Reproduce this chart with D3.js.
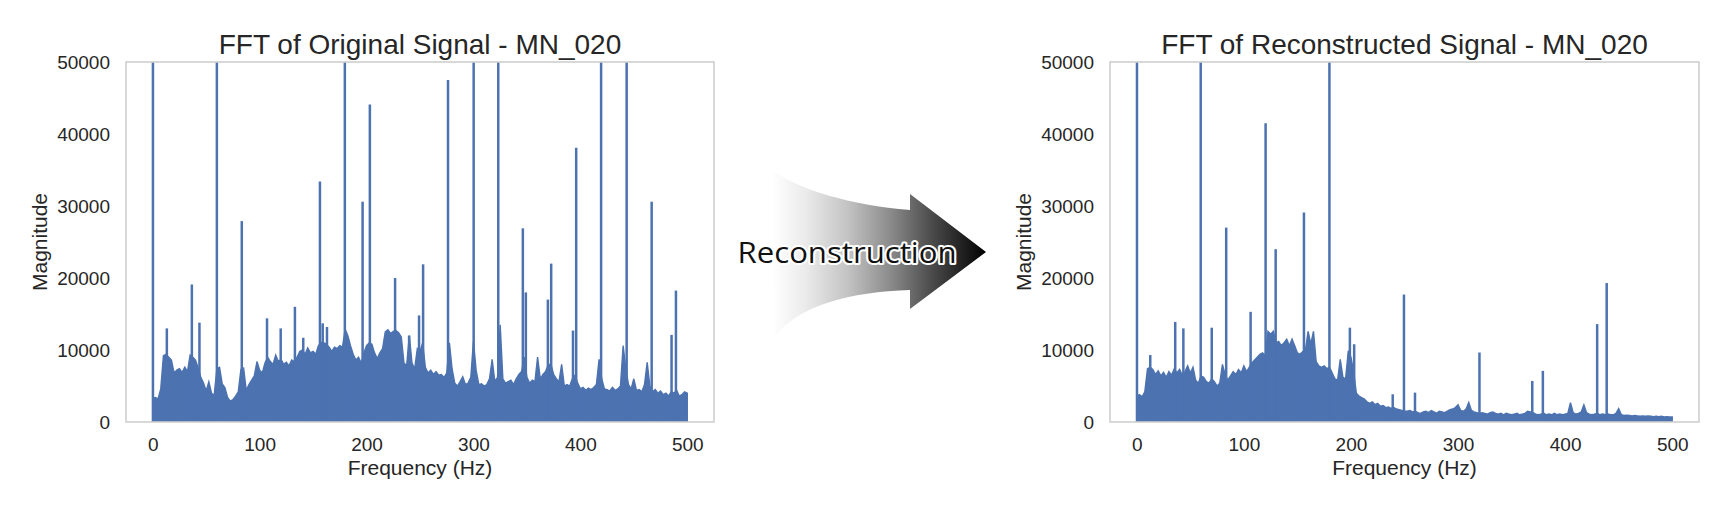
<!DOCTYPE html>
<html><head><meta charset="utf-8">
<script src="https://cdn.jsdelivr.net/npm/d3@7"></script>
<style>body{margin:0;background:#fff}svg{display:block}</style>
</head><body>
<svg id="chart" width="1733" height="514"></svg>
<script>
// ---------------- data ----------------
const freqTicks = [0, 100, 200, 300, 400, 500];
const magTicks = [0, 10000, 20000, 30000, 40000, 50000];
const titles = ["FFT of Original Signal - MN_020", "FFT of Reconstructed Signal - MN_020"];
const xLabel = "Frequency (Hz)";
const yLabel = "Magnitude";
const arrowLabel = "Reconstruction";
const floorStep = 2.5; // Hz between noise-floor samples (0 .. 500 Hz)

// Original signal: noise-floor envelope read every 2.5 Hz
const origFloor = [
  3300, 3400, 3200, 4600, 9200, 9400, 9000, 8600, 6800, 7200,
  7400, 6900, 7600, 7000, 9300, 9000, 8600, 7500, 6200, 5400,
  4300, 5600, 4000, 3700, 7400, 7600, 5300, 4800, 3400, 2900,
  3100, 3600, 4200, 7300, 7500, 4400, 5200, 5800, 6400, 8400,
  7200, 6800, 8200, 9000, 8400, 8000, 9300, 8400, 8700, 8000,
  8300, 7800, 8600, 8400, 9000, 9800, 10000, 9400, 10300, 9600,
  9800, 9400, 10600, 11000, 11000, 10800, 10400, 9800, 10400, 10200,
  10600, 10400, 12900, 12000, 10600, 9400, 8600, 9000, 8200, 9600,
  10600, 11000, 10800, 9600, 8800, 9600, 10200, 12500, 12800, 12300,
  12600, 12700, 12400, 11800, 8200, 7800, 12000, 8200, 7400, 10200,
  9800, 11000, 7600, 6800, 7200, 6600, 7000, 6500, 6600, 6200,
  6800, 11000, 7400, 5400, 5000, 5600, 6300, 5200, 5400, 6200,
  11200, 7200, 5200, 5300, 5000, 5200, 6000, 8700, 5600, 6200,
  13500, 6000, 5400, 5600, 5800, 5200, 6000, 6600, 7000, 9000,
  6200, 5400, 5800, 5600, 9000, 6000, 6600, 7000, 8000, 8000,
  6600, 6000, 5600, 8000, 5000, 5200, 5000, 6000, 6500, 5400,
  4600, 4800, 4400, 4700, 4500, 4800, 5200, 8700, 6000, 4600,
  4500, 4300, 4800, 4400, 4600, 5000, 10600, 7500, 5200, 4600,
  6000, 4400, 4500, 4200, 5200, 8300, 5000, 4200, 4500, 4000,
  4300, 3800, 4000, 3600, 4200, 4000, 4400, 3600, 3800, 4200,
  4000
];
// Original signal: isolated peaks [frequency Hz, magnitude]
const origSpikes = [
  [0.2, 90000], [13.2, 13000], [36.6, 19100], [43.7, 13800], [60, 85000],
  [83.3, 27900], [106.9, 14400], [119.7, 13000], [133, 16000], [140.8, 11700],
  [156.4, 33400], [159, 13700], [163, 13200], [179.7, 70000], [196.3, 30600],
  [203.1, 44100], [226.7, 20000], [239.8, 12000], [249.1, 14800], [252.9, 21900],
  [276.2, 47500], [300.2, 60000], [323.2, 60000], [346.2, 26900], [349, 18000],
  [369.6, 17000], [372.7, 22000], [393.1, 12700], [396.1, 38100], [419.4, 65000],
  [443.3, 65000], [466.7, 30600], [485.3, 12100], [489.4, 18250]
];

// Reconstructed signal: noise-floor envelope read every 2.5 Hz
const reconFloor = [
  3600, 3800, 3500, 4200, 7400, 7600, 7300, 6600, 7100, 6400,
  6900, 6200, 7000, 6500, 7400, 6800, 7300, 6500, 7000, 7800,
  6800, 7600, 5800, 5400, 6400, 6200, 5600, 5400, 6000, 5600,
  5000, 5400, 8000, 6600, 5800, 6400, 7000, 6600, 7300, 6800,
  7800, 7000, 7600, 8200, 8600, 9000, 9400, 9600, 9200, 12600,
  12200, 12600, 11000, 11200, 10600, 11000, 11500, 10600, 11500, 10600,
  9600, 9400, 9800, 10000, 12600, 10800, 12600, 8400, 7800, 7600,
  7800, 7400, 7600, 6800, 6000, 5800, 8700, 6200, 6000, 9900,
  9000, 7000, 4000, 3600, 3400, 3200, 2800, 2600, 2800, 2400,
  2600, 2200, 2300, 2000, 2100, 1900, 2000, 1800, 1700, 1600,
  1500, 1500, 1600, 1400, 1500, 1300, 1200, 1400, 1500, 1300,
  1600, 1400, 1200, 1500, 1400, 1300, 1500, 1700, 1800, 2000,
  2400, 1600, 1500, 1800, 2700, 1600, 1400, 1300, 1200, 1300,
  1200, 1100, 1300, 1400, 1200, 1100, 1200, 1000, 1200, 1100,
  1000, 1100, 1200, 1000, 1100, 1200, 1500, 1400, 1300, 1100,
  1000, 1100, 1200, 1000, 1100, 1000, 1200, 1000, 1100, 1000,
  1100, 1200, 2700, 1300, 1100, 1200, 1400, 2400, 1300, 1100,
  1000, 1100, 1200, 1000, 1100, 1000, 1100, 1000, 1000, 1200,
  1850, 1000, 900, 950, 900, 850, 900, 850, 800, 850,
  800, 850, 800, 750, 800, 750, 800, 700, 750, 700,
  700
];
// Reconstructed signal: isolated peaks [frequency Hz, magnitude]
const reconSpikes = [
  [0.2, 90000], [12.6, 9300], [35.9, 13900], [43.5, 13000], [59.7, 85000],
  [70, 13100], [83.5, 27000], [106.3, 15300], [120.3, 41500], [129.7, 24000],
  [156.1, 29100], [179.9, 70000], [199, 13100], [203, 10800], [239, 3850],
  [249.5, 17700], [259.8, 4080], [320, 9650], [369.3, 5700], [379.2, 7100],
  [429.9, 13600], [438.8, 19300]
];

// ---------------- drawing ----------------
const blue = "#4C72B0";
const textCol = "#262626";
const font = "'Liberation Sans', Arial, sans-serif";
const svg = d3.select("#chart");
const defs = svg.append("defs");

const axTop = 62, axBottom = 422;
const panels = [
  { left: 126, right: 714, title: titles[0], floor: origFloor, spikes: origSpikes },
  { left: 1110, right: 1699, title: titles[1], floor: reconFloor, spikes: reconSpikes }
];

panels.forEach((p, i) => {
  const x = d3.scaleLinear().domain([-25, 525]).range([p.left, p.right]);
  const y = d3.scaleLinear().domain([0, 50000]).range([axBottom, axTop]);
  const clipId = "clip" + i;
  defs.append("clipPath").attr("id", clipId)
    .append("rect").attr("x", p.left).attr("y", axTop)
    .attr("width", p.right - p.left).attr("height", axBottom - axTop);

  const g = svg.append("g");
  const plot = g.append("g").attr("clip-path", `url(#${clipId})`);

  const area = d3.area()
    .x((d, j) => x(j * floorStep))
    .y0(y(0))
    .y1(d => y(d));
  plot.append("path").datum(p.floor)
    .attr("d", area)
    .attr("fill", blue)
    .attr("stroke", blue)
    .attr("stroke-width", 1.4)
    .attr("stroke-linejoin", "miter");

  plot.selectAll("line.spike").data(p.spikes).join("line")
    .attr("class", "spike")
    .attr("x1", d => x(d[0])).attr("x2", d => x(d[0]))
    .attr("y1", y(0)).attr("y2", d => y(d[1]))
    .attr("stroke", blue).attr("stroke-width", 2.5);

  // frame
  g.append("rect")
    .attr("x", p.left).attr("y", axTop)
    .attr("width", p.right - p.left).attr("height", axBottom - axTop)
    .attr("fill", "none").attr("stroke", "#cfcfcf").attr("stroke-width", 1.6);

  const xa = g.append("g").attr("transform", `translate(0,${axBottom})`)
    .call(d3.axisBottom(x).tickValues(freqTicks).tickSize(0).tickPadding(16).tickFormat(d3.format("d")));
  const ya = g.append("g").attr("transform", `translate(${p.left},0)`)
    .call(d3.axisLeft(y).tickValues(magTicks).tickSize(0).tickPadding(16).tickFormat(d3.format("d")));
  [xa, ya].forEach(a => {
    a.select(".domain").remove();
    a.selectAll("text").attr("font-family", font).attr("font-size", 19).attr("fill", textCol);
  });

  g.append("text")
    .attr("x", (p.left + p.right) / 2).attr("y", 44)
    .attr("text-anchor", "middle").attr("dominant-baseline", "central")
    .attr("font-family", font).attr("font-size", 28).attr("fill", textCol)
    .text(p.title);
  g.append("text")
    .attr("x", (p.left + p.right) / 2).attr("y", 467)
    .attr("text-anchor", "middle").attr("dominant-baseline", "central")
    .attr("font-family", font).attr("font-size", 21).attr("fill", textCol)
    .text(xLabel);
  g.append("text")
    .attr("transform", `translate(${p.left - 87},${(axTop + axBottom) / 2}) rotate(-90)`)
    .attr("text-anchor", "middle").attr("dominant-baseline", "central")
    .attr("font-family", font).attr("font-size", 21).attr("fill", textCol)
    .text(yLabel);
});

// ---------------- arrow ----------------
const grad = defs.append("linearGradient").attr("id", "arrowGrad")
  .attr("gradientUnits", "userSpaceOnUse")
  .attr("x1", 772).attr("y1", 0).attr("x2", 986).attr("y2", 0);
[[0, "#ffffff"], [0.15, "#ececec"], [0.35, "#c4c4c4"], [0.55, "#8c8c8c"], [0.75, "#4a4a4a"], [0.9, "#1e1e1e"], [1, "#000000"]]
  .forEach(s => grad.append("stop").attr("offset", s[0]).attr("stop-color", s[1]));

const ap = d3.path();
ap.moveTo(772, 170);
ap.bezierCurveTo(800, 190, 850, 205, 910, 210);
ap.lineTo(910, 194);
ap.lineTo(986, 252);
ap.lineTo(910, 309);
ap.lineTo(910, 290);
ap.bezierCurveTo(850, 292, 800, 305, 775, 336);
ap.closePath();
svg.append("path").attr("d", ap.toString()).attr("fill", "url(#arrowGrad)");

svg.append("text")
  .attr("x", 847).attr("y", 251)
  .attr("text-anchor", "middle").attr("dominant-baseline", "central")
  .attr("font-family", "'Open Sans', sans-serif").attr("font-size", 29)
  .attr("textLength", 219).attr("lengthAdjust", "spacingAndGlyphs")
  .attr("fill", "#111").attr("stroke", "#fff").attr("stroke-width", 4)
  .attr("stroke-linejoin", "round").attr("paint-order", "stroke")
  .text(arrowLabel);
</script>
</body></html>
